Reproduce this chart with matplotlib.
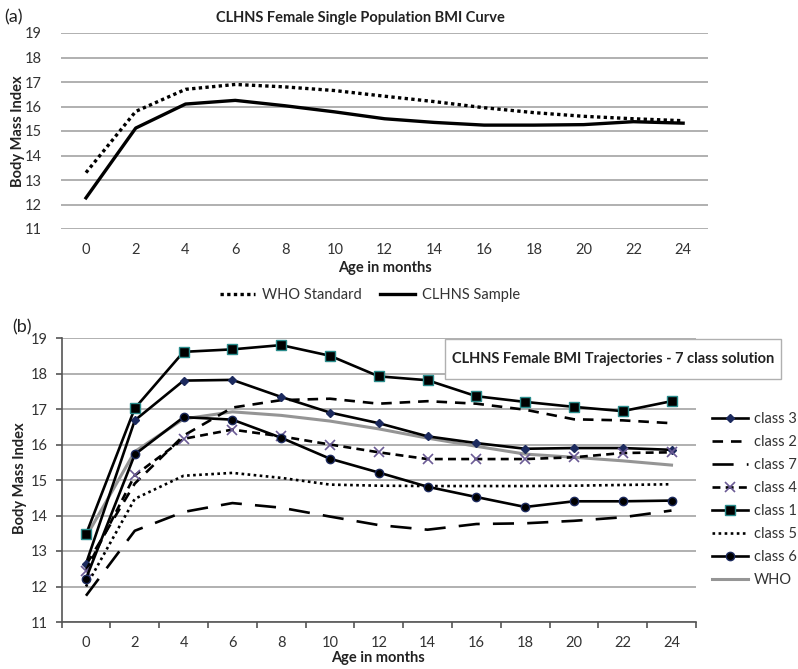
import matplotlib
matplotlib.use("Agg")
import matplotlib.pyplot as plt
from matplotlib.patches import Rectangle

plt.rcParams['font.family'] = ['Lato', 'DejaVu Sans']

months = [0, 2, 4, 6, 8, 10, 12, 14, 16, 18, 20, 22, 24]
yticks = [11, 12, 13, 14, 15, 16, 17, 18, 19]

# Panel (a)
who_standard = [13.3, 15.8, 16.7, 16.9, 16.8, 16.65, 16.42, 16.2, 15.95, 15.75, 15.6, 15.5, 15.42]
clhns_sample = [12.27, 15.12, 16.1, 16.25, 16.03, 15.78, 15.5, 15.35, 15.24, 15.24, 15.26, 15.38, 15.32]

# Panel (b)
class3 = [12.64, 16.68, 17.8, 17.82, 17.34, 16.9, 16.6, 16.23, 16.04, 15.88, 15.9, 15.9, 15.85]
class2 = [12.6, 14.9, 16.25, 17.04, 17.25, 17.29, 17.15, 17.22, 17.15, 16.98, 16.71, 16.68, 16.6]
class7 = [11.74, 13.57, 14.1, 14.35, 14.22, 13.97, 13.73, 13.6, 13.76, 13.78, 13.85, 13.95, 14.14]
class4 = [12.45, 15.13, 16.16, 16.42, 16.23, 16.0, 15.78, 15.59, 15.59, 15.59, 15.64, 15.76, 15.78]
class1 = [13.47, 17.02, 18.61, 18.68, 18.8, 18.5, 17.92, 17.81, 17.36, 17.2, 17.06, 16.94, 17.22]
class5 = [12.0, 14.47, 15.12, 15.2, 15.06, 14.87, 14.84, 14.83, 14.83, 14.83, 14.84, 14.86, 14.88]
class6 = [12.22, 15.72, 16.77, 16.7, 16.19, 15.6, 15.21, 14.81, 14.52, 14.24, 14.4, 14.4, 14.42]
who_b = [13.4, 15.8, 16.72, 16.92, 16.82, 16.66, 16.44, 16.18, 15.95, 15.73, 15.64, 15.54, 15.42]

W, H = 798, 669
fig = plt.figure(figsize=(W / 100, H / 100), dpi=100)

def fx(px):
    return px / W

def fy(py):
    return 1 - py / H

grid_c = '#a3a3a3'
fs_tick = 10.5

# ---------- Panel (a) ----------
axa = fig.add_axes([fx(61.1), fy(229), fx(708) - fx(61.1), fy(33) - fy(229)])
axa.set_xlim(-1, 25)
axa.set_ylim(11, 19)
axa.set_yticks(yticks)
axa.set_xticks(months)
axa.grid(axis='y', color=grid_c, linewidth=1.2)
axa.set_axisbelow(True)
for s in axa.spines.values():
    s.set_visible(False)
axa.tick_params(length=0, labelsize=fs_tick, colors='#333333')
axa.tick_params(axis='y', pad=14)
axa.tick_params(axis='x', pad=10)
axa.plot(months, who_standard, color='black', linewidth=2.4, linestyle=(0, (1, 1)), label='WHO Standard')
axa.plot(months, clhns_sample, color='black', linewidth=2.4, label='CLHNS Sample')
fig.text(fx(360), fy(18), 'CLHNS Female Single Population BMI Curve', ha='center', va='center',
         fontsize=10.5, fontweight='bold', color='#222222')
fig.text(fx(4), fy(17), '(a)', ha='left', va='center', fontsize=13, color='#222222')
fig.text(fx(18), fy(131), 'Body Mass Index', rotation=90, ha='center', va='center',
         fontsize=10.5, fontweight='bold', color='#222222')
fig.text(fx(385), fy(268), 'Age in months', ha='center', va='center',
         fontsize=10.5, fontweight='bold', color='#222222')
leg_a = axa.legend(loc='center', bbox_to_anchor=((370 - 61.1) / (708 - 61.1), (229 - 295) / (229 - 33)),
                   ncol=2, frameon=False, fontsize=10.5, handlelength=2.4, columnspacing=1.2,
                   handletextpad=0.5)
for t in leg_a.get_texts():
    t.set_color('#333333')

# ---------- Panel (b) ----------
axb = fig.add_axes([fx(61.6), fy(622), fx(695.9) - fx(61.6), fy(338) - fy(622)])
axb.set_xlim(-1, 25)
axb.set_ylim(11, 19)
axb.set_yticks(yticks)
axb.set_xticks(months)
axb.set_xticks([-1, 1, 3, 5, 7, 9, 11, 13, 15, 17, 19, 21, 23, 25], minor=True)
axb.grid(axis='y', color=grid_c, linewidth=1.2)
axb.set_axisbelow(True)
axb.spines['top'].set_visible(False)
axb.spines['right'].set_visible(False)
axb.spines['left'].set_color('#555555')
axb.spines['bottom'].set_color('#555555')
axb.spines['left'].set_linewidth(1.2)
axb.spines['bottom'].set_linewidth(1.2)
axb.tick_params(axis='x', which='major', length=0, pad=10, labelsize=fs_tick, colors='#333333')
axb.tick_params(axis='x', which='minor', length=4, width=1.2, color='#555555', direction='out')
axb.tick_params(axis='y', length=4, width=1.2, color='#555555', labelsize=fs_tick,
                labelcolor='#333333', pad=6)

lw = 1.9
axb.plot(months, class3, color='black', linewidth=lw, marker='D', markersize=4.5,
         markerfacecolor='#1c2a5e', markeredgecolor='#1c2a5e', label='class 3', zorder=5)
axb.plot(months, class2, color='black', linewidth=lw, linestyle=(0, (4, 3)), label='class 2', zorder=4)
axb.plot(months, class7, color='black', linewidth=lw, linestyle=(0, (8, 5)), label='class 7', zorder=4)
axb.plot(months, class4, color='black', linewidth=lw, linestyle=(0, (3, 2)), marker='x', markersize=7,
         markeredgecolor='#6b5b95', markeredgewidth=1.2, label='class 4', zorder=5)
axb.plot(months, class1, color='black', linewidth=lw, marker='s', markersize=6.5,
         markerfacecolor='black', markeredgecolor='#2a8c8c', markeredgewidth=1.0, label='class 1', zorder=6)
axb.plot(months, class5, color='black', linewidth=lw, linestyle=(0, (1, 1.3)), label='class 5', zorder=4)
axb.plot(months, class6, color='black', linewidth=lw, marker='o', markersize=6,
         markerfacecolor='black', markeredgecolor='#1c2a5e', label='class 6', zorder=5)
axb.plot(months, who_b, color='#959595', linewidth=2.2, label='WHO', zorder=3)

leg_b = axb.legend(loc='upper left', bbox_to_anchor=((706 - 61.6) / (695.9 - 61.6), (622 - 406) / (622 - 338)),
                   frameon=False, fontsize=10.5, handlelength=2.5, handletextpad=0.4,
                   labelspacing=0.62, borderaxespad=0)
for t in leg_b.get_texts():
    t.set_color('#333333')

# inset title box
rect = Rectangle((fx(445), fy(379)), fx(781) - fx(445), fy(339) - fy(379), transform=fig.transFigure,
                 facecolor='white', edgecolor='#b0b0b0', linewidth=1.0, zorder=10)
fig.patches.append(rect)
fig.text(fx(613), fy(359), 'CLHNS Female BMI Trajectories - 7 class solution', ha='center', va='center',
         fontsize=10.5, fontweight='bold', color='#222222', zorder=11)

fig.text(fx(12), fy(327), '(b)', ha='left', va='center', fontsize=13, color='#222222')
fig.text(fx(20), fy(478), 'Body Mass Index', rotation=90, ha='center', va='center',
         fontsize=10.5, fontweight='bold', color='#222222')
fig.text(fx(378), fy(658), 'Age in months', ha='center', va='center',
         fontsize=10.5, fontweight='bold', color='#222222')

fig.savefig('out.png', dpi=100)
